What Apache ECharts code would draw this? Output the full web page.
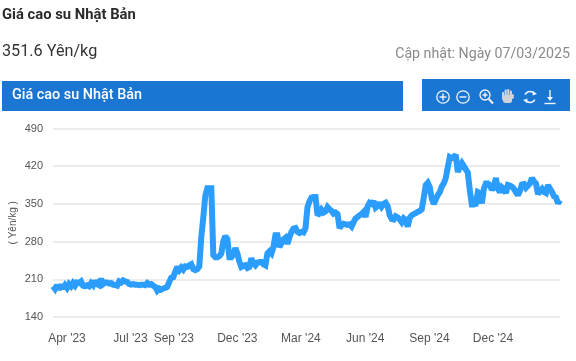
<!DOCTYPE html>
<html><head><meta charset="utf-8">
<style>html,body{margin:0;padding:0;background:#fff}#c{width:576px;height:361px}</style>
<script src="https://cdn.jsdelivr.net/npm/echarts@6/dist/echarts.min.js"></script>
</head><body><div id="c"></div>
<script>
var titleText = "Giá cao su Nhật Bản";
var priceText = "351.6 Yên/kg";
var updatedText = "Cập nhật: Ngày 07/03/2025";
var unitText = "( Yên/kg )";
var firstDate = "2023-03-12";
var lastDate = "2025-03-07";
var tickDates = ["2023-04-01","2023-07-01","2023-09-01","2023-12-01","2024-03-01","2024-06-01","2024-09-01","2024-12-01"];
var tickLabels = ["Apr '23","Jul '23","Sep '23","Dec '23","Mar '24","Jun '24","Sep '24","Dec '24"];
var prices = [
197,192,199,191,200,193,199,194,201,197,203,198,204,203,206,198,197,199,197,203,199,207,201,199,211,201,204,204,202,203,200,199,198,206,204,208,206,205,
201,200,201,200,200,199,200,200,199,203,200,201,198,196,189,193,191,193,194,196,
205,213,214,224,233,227,232,228,234,233,236,238,229,227,229,234,288,325,365,379,379,379,255,251,251,253,258,281,290,285,251,251,256,268,258,243,
233,235,236,231,233,249,240,236,241,242,242,238,236,258,262,258,270,292,292,270,277,284,287,276,288,298,304,305,298,296,298,297,305,344,355,362,363,363,
329,332,339,334,336,344,340,337,332,334,331,305,311,313,312,311,312,308,316,323,326,329,331,335,326,345,352,350,355,343,346,352,345,350,352,346,
329,322,321,327,325,321,316,323,320,308,324,329,331,333,335,337,340,361,385,389,381,360,350,358,366,372,382,388,398,418,437,435,437,441,409,420,426,420,414,408,
375,349,349,350,372,370,351,378,388,388,385,376,382,398,378,372,381,378,370,385,384,382,378,372,366,374,386,387,380,384,388,398,392,388,368,374,378,372,370,385,378,372,364,362,351,357
];

var t0 = new Date(firstDate + "T00:00:00").getTime();
var t1 = new Date(lastDate + "T00:00:00").getTime();
var tickMs = tickDates.map(function(d){return new Date(d + "T00:00:00").getTime();});
var seriesData = prices.map(function(v,i){return [t0 + (t1-t0)*i/(prices.length-1), v];});

var white = "#f2f6fb", grey = "#cfd3d8";
function ln(x1,y1,x2,y2,c,w){return {type:"line",shape:{x1:x1,y1:y1,x2:x2,y2:y2},style:{stroke:c||white,lineWidth:w||1.4,fill:null}};}
function ci(cx,cy,r){return {type:"circle",shape:{cx:cx,cy:cy,r:r},style:{stroke:white,lineWidth:1.3,fill:"transparent"}};}
function rr(x,y,w,h,r){return {type:"rect",shape:{x:x,y:y,width:w,height:h,r:r},style:{fill:grey}};}
function arc(cx,cy,r,a,b){return {type:"arc",shape:{cx:cx,cy:cy,r:r,startAngle:a,endAngle:b,clockwise:true},style:{stroke:white,lineWidth:1.6,fill:null}};}

var graphics = [
 {type:"text",x:2,y:8,style:{text:titleText,font:"bold 14.8px Roboto",fill:"#2b2b2b"}},
 {type:"text",x:2,y:44,style:{text:priceText,font:"16.2px Roboto",fill:"#333333"}},
 {type:"text",x:570,y:47,style:{text:updatedText,font:"14.2px Roboto",fill:"#8a8a8a",align:"right"}},
 {type:"rect",shape:{x:2,y:81,width:401,height:30},style:{fill:"#1976d2"}},
 {type:"text",x:12,y:88,style:{text:titleText,font:"500 14.4px Roboto",fill:"#ffffff"}},
 {type:"rect",shape:{x:422,y:79,width:148,height:32},style:{fill:"#1976d2"}},
 ci(443,97,6.2), ln(439.5,97,446.5,97), ln(443,93.5,443,100.5),
 ci(463,97,6.2), ln(459.5,97,466.5,97),
 ci(485,95,5), ln(482.5,95,487.5,95), ln(485,92.5,485,97.5), ln(488.8,99,493,103.5,white,2),
 rr(502,92,2.2,8,1), rr(504.6,89.5,2.2,10,1), rr(507.2,89,2.2,10,1), rr(509.8,90.5,2.2,9,1), rr(503,95,9,8,2.5), rr(512,94,1.8,5,0.9),
 arc(530,97,5.5,3.6,5.6), arc(530,97,5.5,0.5,2.5),
 {type:"polygon",shape:{points:[[533,91],[537,94],[532.5,95.5]]},style:{fill:white}},
 {type:"polygon",shape:{points:[[527,103],[523,100],[527.5,98.5]]},style:{fill:white}},
 ln(550,90,550,98.5), {type:"polygon",shape:{points:[[547,97],[553,97],[550,101]]},style:{fill:white}}, ln(544.5,103.5,555.5,103.5)
];

var chart = echarts.init(document.getElementById("c"),null,{renderer:"canvas"});
chart.setOption({
 animation:false,
 graphic:{elements:graphics},
 grid:{left:53,right:16,top:128.5,height:188.5,containLabel:false,outerBoundsMode:"none"},
 xAxis:{type:"value",min:t0,max:t1,scale:true,
  axisLine:{show:false},axisTick:{show:false},splitLine:{show:false},
  axisLabel:{customValues:tickMs,hideOverlap:false,showMinLabel:true,showMaxLabel:true,margin:16,color:"#555555",fontFamily:"Liberation Sans",fontSize:12,
   formatter:function(v){return tickLabels[tickMs.indexOf(v)]||"";}}},
 yAxis:{type:"value",min:140,max:490,interval:70,
  name:unitText,nameLocation:"middle",nameGap:35,nameMoveOverlap:false,nameTextStyle:{color:"#555555",fontFamily:"Liberation Sans",fontSize:10},
  axisLine:{show:false},axisTick:{show:false},
  splitLine:{lineStyle:{color:"#e6e6e6",width:1.5}},
  axisLabel:{margin:10,color:"#555555",fontFamily:"Liberation Sans",fontSize:11}},
 series:[{type:"line",data:seriesData,symbol:"none",smooth:false,clip:false,
  lineStyle:{color:"#2b9dff",width:6,join:"miter",miterLimit:2}}]
});
</script></body></html>
